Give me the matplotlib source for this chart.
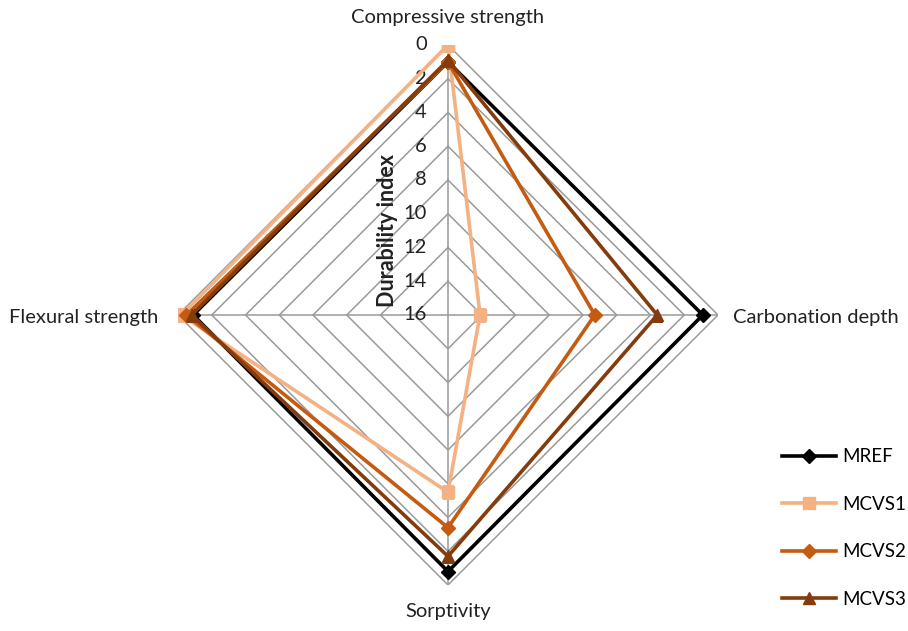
import numpy as np
import matplotlib.pyplot as plt
from matplotlib.transforms import offset_copy

plt.rcParams['font.family'] = ['Lato', 'DejaVu Sans']

# radar axes, clockwise from the top
categories = ["Compressive strength", "Carbonation depth", "Sorptivity", "Flexural strength"]

# durability index of each mix per property (axis runs 0 at the rim to 16 at the centre)
mref = [1.0, 0.9, 0.8, 0.9]
mcvs1 = [0.0, 14.1, 5.5, 0.2]
mcvs2 = [1.0, 7.3, 3.4, 0.5]
mcvs3 = [0.9, 3.6, 1.7, 0.8]

series_names = ["MREF", "MCVS1", "MCVS2", "MCVS3"]
series_values = [mref, mcvs1, mcvs2, mcvs3]
colors = ["#000000", "#F4B183", "#C55A11", "#843C0C"]
markers = ["D", "s", "D", "^"]
msizes = [7, 9, 7, 9]

ticks = list(range(0, 17, 2))
FS = 14.5

fig = plt.figure(figsize=(9.08, 6.31), dpi=100)
ax = fig.add_axes([178 / 908, 46 / 631, 540 / 908, 540 / 631], projection="polar")
ax.set_theta_zero_location("N")
ax.set_theta_direction(-1)
ax.set_ylim(16, 0)

angles = np.linspace(0, 2 * np.pi, len(categories), endpoint=False)
closed = np.append(angles, angles[0])

# straight-edged rings and spokes instead of the default circular grid
ax.grid(False)
ax.spines["polar"].set_visible(False)
ax.set_xticks([])
ax.set_yticks([])
for t in ticks[:-1]:
    ax.plot(closed, [t] * len(closed), color="#9A9A9A", lw=1.1, zorder=1)
for a in angles:
    ax.plot([a, a], [16, 0], color="#9A9A9A", lw=1.1, zorder=1)

# radial tick labels along the top spoke
lab_tr = offset_copy(ax.transData, fig=fig, x=-21, y=0, units="dots")
for t in ticks:
    ax.text(0, t, str(t), transform=lab_tr, ha="right", va="center", fontsize=FS, color="#222222")

lines = []
for name, vals, c, m, ms in zip(series_names, series_values, colors, markers, msizes):
    v = np.append(vals, vals[0])
    ln, = ax.plot(closed, v, color=c, lw=2.6, marker=m, markersize=ms,
                  markerfacecolor=c, markeredgecolor=c, label=name, zorder=3)
    lines.append(ln)

# category labels
cat_kw = dict(fontsize=FS, color="#222222")
fig.text(448 / 908, 1 - 18 / 631, categories[0], ha="center", va="center", **cat_kw)
fig.text(733 / 908, 1 - 317 / 631, categories[1], ha="left", va="center", **cat_kw)
fig.text(448 / 908, 1 - 612 / 631, categories[2], ha="center", va="center", **cat_kw)
fig.text(158 / 908, 1 - 317 / 631, categories[3], ha="right", va="center", **cat_kw)

fig.text(387 / 908, 1 - 230 / 631, "Durability index", rotation=90, ha="center", va="center",
         fontsize=15.5, fontweight="bold", color="#222222")

fig.legend(handles=lines, loc="center left", bbox_to_anchor=(782 / 908, 1 - 528 / 631),
           frameon=False, fontsize=13.5, handlelength=2.9, labelspacing=1.62, handletextpad=0.3,
           borderpad=0, borderaxespad=0)

fig.savefig("out.png", dpi=100)
